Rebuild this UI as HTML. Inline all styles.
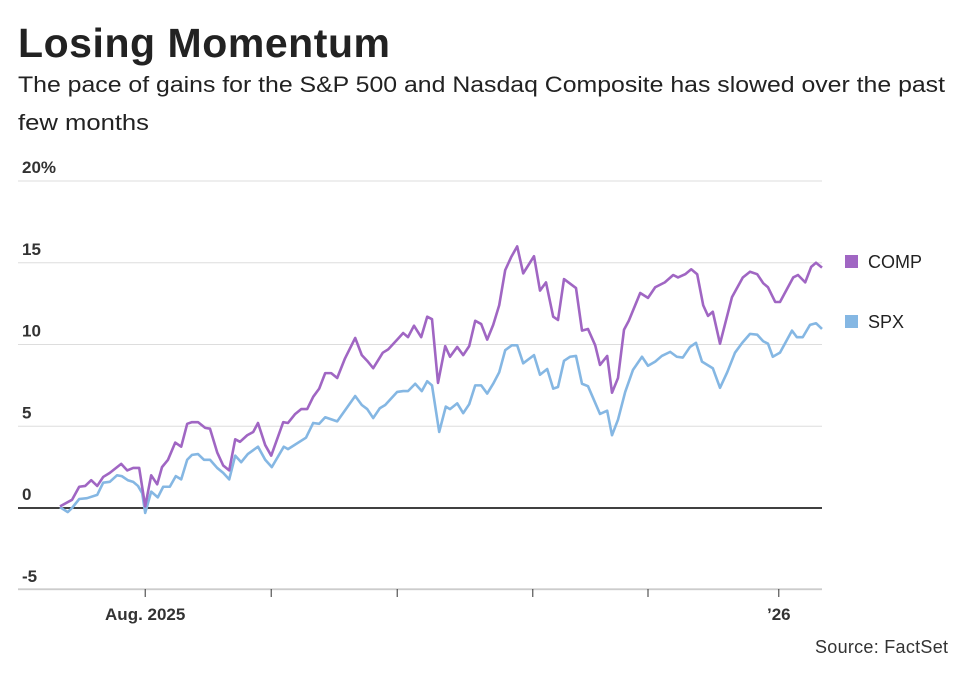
<!DOCTYPE html>
<html><head><meta charset="utf-8"><style>
body{margin:0;background:#fff;font-family:"Liberation Sans",sans-serif;}
svg text{font-family:"Liberation Sans",sans-serif;}
</style></head><body>
<svg width="969" height="679" viewBox="0 0 969 679">
<text x="18" y="57" font-size="41" font-weight="bold" fill="#222" textLength="372">Losing Momentum</text>
<text x="18" y="92" font-size="22" fill="#222" textLength="927" lengthAdjust="spacingAndGlyphs">The pace of gains for the S&amp;P 500 and Nasdaq Composite has slowed over the past</text>
<text x="18" y="130" font-size="22" fill="#222" textLength="131" lengthAdjust="spacingAndGlyphs">few months</text>
<g id="grid"></g>
<g id="lines"></g>
<rect x="845" y="255" width="13" height="13" fill="#a066c3"/>
<text x="868" y="268" font-size="18" fill="#222">COMP</text>
<rect x="845" y="315" width="13" height="13" fill="#85b7e3"/>
<text x="868" y="328" font-size="18" fill="#222">SPX</text>
<text x="948" y="653" font-size="18" fill="#333" text-anchor="end" textLength="133">Source: FactSet</text>
</svg>
<script>
const yTicks=[-5,0,5,10,15,20];
const yTickLabels=["-5","0","5","10","15","20%"];
const xTickDays=[14.2,35.2,56.2,78.8,98,119.8];
const xTickLabels=["Aug. 2025","","","","","\u201926"];
const compDays=[0,2,3.2,4.2,5.2,6.2,7.2,8.3,10.2,11.2,12.2,13.2,14.2,15.2,16.2,17,18,19.2,20.2,21.2,22,23,24.2,25,26.2,27.2,28.2,29.2,30,31.2,32.2,33,34.2,35.2,37.2,38,39.2,40.2,41.2,42.2,43.2,44.2,45.2,46.2,47.5,49.2,50.3,51.2,52.2,53.8,54.7,56.2,57.2,58,59,60.2,61.2,62,63,64.2,65,66.2,67.2,68.2,69.2,70.2,71.2,72.2,73.2,74.2,75.2,76.2,77.2,79,80,81,82.2,83,84,86,87,88,89.2,90,91.2,92,93,94,94.8,96.7,98,99.2,100.8,102.2,103,104.2,105.2,106.2,107.2,108,108.8,110,112,113.8,115,116.2,117.2,118,119.2,120,122.2,123,124.2,125.2,126,127];
const compValues=[0.1,0.5,1.3,1.35,1.7,1.35,1.9,2.15,2.7,2.3,2.45,2.45,0.1,2.0,1.45,2.5,2.95,4.0,3.75,5.15,5.25,5.25,4.9,4.85,3.4,2.6,2.3,4.2,4.05,4.45,4.65,5.2,3.85,3.2,5.25,5.2,5.75,6.05,6.05,6.8,7.3,8.25,8.25,7.95,9.15,10.4,9.35,9.0,8.55,9.5,9.7,10.3,10.7,10.45,11.15,10.45,11.7,11.55,7.65,9.9,9.25,9.85,9.35,9.9,11.45,11.25,10.3,11.2,12.4,14.55,15.35,16.0,14.35,15.4,13.3,13.8,11.7,11.5,14.0,13.45,10.85,10.95,9.95,8.75,9.3,7.05,7.95,10.9,11.45,13.15,12.85,13.5,13.8,14.25,14.1,14.3,14.6,14.3,12.4,11.75,12.0,10.05,12.9,14.1,14.45,14.3,13.75,13.5,12.6,12.6,14.1,14.25,13.8,14.75,15.0,14.7];
const spxDays=[0,1.3,2,3.2,4.5,6.2,7.2,8.3,9.5,10.3,11.3,12.2,13,13.7,14.2,15.2,16.3,17.2,18.3,19.3,20.2,21.2,22,23,24,25,26.2,27.2,28.2,29.2,30.2,31.3,33,34.2,35.3,37.3,38,41,42.2,43.2,44.2,46.2,49.2,50.3,51.2,52.2,53.3,54.2,56.2,57.2,58,59.2,60.3,61.2,62,63.2,64.3,65,66.2,67.2,68.2,69.2,70.2,71.2,72.2,73.2,74.2,75.3,76.2,77.2,79,80,81.2,82.2,83,84,85,86,87,88,90,91.2,92,93,94.2,95.5,97,98,99.2,100.3,101.7,102.8,103.8,105,106,107,108.8,110,111.2,112.5,113.7,115,116.2,117.2,118,118.8,120,122,122.8,123.8,125,126,127];
const spxValues=[0.05,-0.25,0,0.55,0.6,0.8,1.55,1.6,2.0,1.95,1.7,1.6,1.35,0.9,-0.3,1.0,0.65,1.3,1.3,1.95,1.75,2.95,3.25,3.3,2.95,2.95,2.45,2.15,1.75,3.2,2.8,3.3,3.75,2.95,2.5,3.75,3.6,4.3,5.2,5.15,5.55,5.3,6.85,6.3,6.05,5.5,6.1,6.3,7.1,7.15,7.15,7.6,7.15,7.75,7.5,4.65,6.2,6.05,6.4,5.8,6.35,7.5,7.5,7.0,7.6,8.3,9.65,9.95,9.95,8.85,9.35,8.15,8.5,7.3,7.4,9.0,9.25,9.3,7.6,7.45,5.75,5.95,4.45,5.4,7.1,8.45,9.25,8.7,8.95,9.3,9.55,9.25,9.2,9.85,10.1,8.95,8.55,7.35,8.3,9.5,10.1,10.65,10.6,10.2,10.05,9.25,9.5,10.85,10.45,10.45,11.2,11.3,10.95];
const NS="http://www.w3.org/2000/svg";
const xs=d=>60+6*d, ys=v=>508-16.35*v;
const grid=document.getElementById('grid'), lines=document.getElementById('lines');
function mk(t,a,p){const e=document.createElementNS(NS,t);for(const k in a)e.setAttribute(k,a[k]);p.appendChild(e);return e;}
yTicks.forEach((t,i)=>{
  const l=mk('line',{x1:18,x2:822,y1:ys(t),y2:ys(t),stroke:t===0?'#000':'#ddd','stroke-width':t===0?1.5:1},grid);
  
  
  const tx=mk('text',{x:22,y:ys(t)-8,'font-size':17,'font-weight':'bold',fill:'#333'},grid);
  tx.textContent=yTickLabels[i];
  
  
});
const ax=mk('line',{x1:18,x2:822,y1:589,y2:589,stroke:'#bbb','stroke-width':1},grid);


xTickDays.forEach((d,i)=>{
  const tk=mk('line',{x1:xs(d),x2:xs(d),y1:589,y2:597,stroke:'#333','stroke-width':1},grid);
  
  
  if(xTickLabels[i]){
    const tx=mk('text',{x:xs(d),y:620,'font-size':17,'font-weight':'bold',fill:'#333','text-anchor':'middle'},grid);
    tx.textContent=xTickLabels[i];
    
    
  }
});
function series(days,vals,color,name){
  const p=mk('polyline',{points:days.map((d,i)=>xs(d)+','+ys(vals[i])).join(' '),fill:'none',stroke:color,'stroke-width':2.6,'stroke-linejoin':'round'},lines);
  
  
}
series(spxDays,spxValues,'#85b7e3','spx-line');
series(compDays,compValues,'#a066c3','comp-line');
</script>
</body></html>
